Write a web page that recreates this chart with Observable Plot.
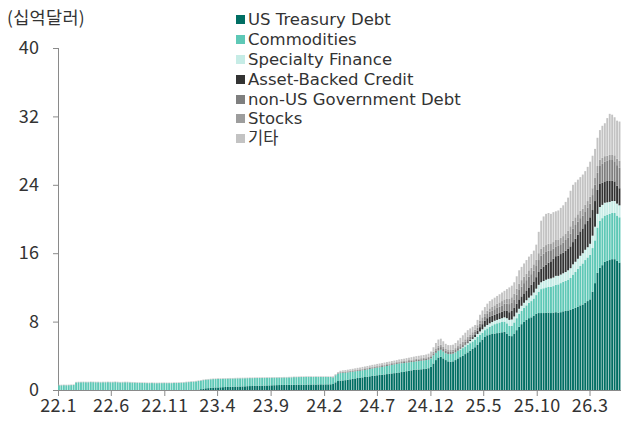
<!DOCTYPE html>
<html><head><meta charset="utf-8">
<script src="https://cdn.jsdelivr.net/npm/d3@7"></script>
<script src="https://cdn.jsdelivr.net/npm/@observablehq/plot@0.6"></script>
<style>
body{margin:0;background:#fff;font-family:"Noto Sans CJK KR","Noto Sans",sans-serif;}
#wrap{position:relative;width:621px;height:425px;overflow:hidden}
#unit{position:absolute;left:7px;top:6px;font-size:17.5px;color:#333;z-index:2;line-height:22px;height:22px;letter-spacing:0.3px}
#legend{position:absolute;left:236px;top:10px;font-size:16.5px;color:#333;z-index:2;font-family:"DejaVu Sans","Noto Sans CJK KR",sans-serif}
.row{display:flex;align-items:center;white-space:nowrap;height:19.8px}
.sw{width:9px;height:9px;margin-right:3px;flex:none}
.lb{display:inline-block;height:19px;line-height:19px;overflow:visible}
#chart svg text{fill:#333}
</style></head>
<body>
<div id="wrap"><div id="unit">(십억달러)</div><div id="legend"></div><div id="chart"></div></div>
<script>
const seriesNames = ["US Treasury Debt","Commodities","Specialty Finance","Asset-Backed Credit","non-US Government Debt","Stocks","기타"];
const seriesColors = ["#006e63","#5ec8b6","#c6ece6","#333333","#7f7f7f","#9d9d9d","#c3c3c3"];
const xTickLabels = ["22.1","22.6","22.11","23.4","23.9","24.2","24.7","24.12","25.5","25.10","26.3"];
const yTicks = [0,8,16,24,32,40];
const firstWeek = "2022-01-01";

// weekly values, billions USD (rows of 10 weeks)
const ust = [
0,0,0,0,0,0,0,0,0,0,
0,0,0,0,0,0,0,0,0,0,
0,0,0,0,0,0,0,0,0,0,
0,0,0,0,0,0,0,0,0,0,
0,0,0,0,0,0,0,0,0,0,
0,0,0,0,0,0,0,0.05,0.1,0.15,
0.2,0.22,0.25,0.28,0.3,0.3,0.32,0.33,0.35,0.36,
0.37,0.38,0.4,0.4,0.41,0.42,0.43,0.45,0.46,0.47,
0.48,0.5,0.5,0.51,0.52,0.53,0.54,0.55,0.56,0.57,
0.58,0.59,0.6,0.6,0.6,0.61,0.62,0.62,0.63,0.63,
0.62,0.63,0.64,0.64,0.65,0.64,0.65,0.66,0.65,0.66,
0.66,0.67,0.7,0.9,1.05,1.1,1.12,1.15,1.2,1.25,
1.3,1.35,1.4,1.45,1.48,1.52,1.55,1.6,1.64,1.68,
1.72,1.75,1.78,1.82,1.86,1.9,1.94,1.97,2.0,2.05,
2.1,2.15,2.2,2.25,2.3,2.35,2.38,2.4,2.42,2.45,
2.5,2.55,2.7,3.1,3.5,3.8,3.9,3.7,3.5,3.35,
3.3,3.35,3.5,3.7,3.85,4.0,4.2,4.4,4.6,4.8,
5.0,5.3,5.6,5.9,6.2,6.4,6.5,6.55,6.6,6.65,
6.7,6.75,6.8,6.6,6.35,6.3,6.6,7.0,7.4,7.7,
8.0,8.2,8.4,8.5,8.7,8.9,9.0,9.0,9.0,9.05,
9.05,9.0,9.05,9.1,9.05,9.1,9.2,9.25,9.3,9.4,
9.5,9.6,9.75,9.9,10.0,10.2,10.4,10.6,11.5,12.5,
13.7,14.3,14.6,15.0,15.1,15.2,15.3,15.3,15.1,14.9];
const commodities = [
0.55,0.55,0.56,0.55,0.56,0.57,0.58,0.88,0.9,0.9,
0.91,0.9,0.9,0.92,0.91,0.9,0.9,0.89,0.9,0.9,
0.91,0.9,0.9,0.92,0.9,0.88,0.89,0.9,0.9,0.88,
0.87,0.86,0.84,0.83,0.82,0.82,0.8,0.8,0.81,0.8,
0.79,0.8,0.8,0.81,0.8,0.8,0.8,0.82,0.82,0.83,
0.85,0.87,0.9,0.92,0.95,0.97,1.0,1.0,1.0,1.0,
1.0,1.0,1.0,0.99,0.98,1.0,0.98,0.98,0.97,0.97,
0.97,0.96,0.95,0.96,0.95,0.95,0.94,0.93,0.93,0.92,
0.92,0.9,0.91,0.9,0.9,0.89,0.89,0.88,0.88,0.87,
0.87,0.86,0.86,0.86,0.87,0.87,0.88,0.88,0.88,0.89,
0.9,0.9,0.9,0.89,0.88,0.89,0.88,0.87,0.88,0.87,
0.86,0.85,0.75,0.8,0.85,0.88,0.88,0.87,0.86,0.85,
0.84,0.83,0.82,0.8,0.82,0.83,0.85,0.86,0.88,0.88,
0.9,0.9,0.92,0.93,0.95,0.97,1.0,1.02,1.05,1.05,
1.03,1.0,1.0,0.98,0.97,0.95,0.97,0.98,1.0,1.0,
1.0,1.0,1.0,0.95,0.85,0.8,0.8,0.8,0.8,0.85,
0.9,0.9,0.9,0.9,0.9,0.9,0.9,0.88,0.88,0.88,
0.9,0.9,0.85,0.8,0.8,0.8,0.9,1.0,1.1,1.15,
1.2,1.2,1.2,1.2,1.15,1.2,1.3,1.4,1.5,1.55,
1.6,1.7,1.8,1.9,2.0,2.2,2.5,2.8,2.9,2.95,
3.0,3.05,3.1,3.2,3.3,3.4,3.45,3.5,3.6,3.7,
4.0,4.2,4.4,4.6,4.8,5.0,5.1,5.2,5.1,5.0,
5.3,5.5,5.5,5.4,5.4,5.4,5.4,5.4,5.3,5.3];
const specialtyFinance = [
0,0,0,0,0,0,0,0,0,0, 0,0,0,0,0,0,0,0,0,0,
0,0,0,0,0,0,0,0,0,0, 0,0,0,0,0,0,0,0,0,0,
0,0,0,0,0,0,0,0,0,0, 0,0,0,0,0,0,0,0,0,0,
0,0,0,0,0,0,0,0,0,0, 0,0,0,0,0,0,0,0,0,0,
0,0,0,0,0,0,0,0,0,0, 0,0,0,0,0,0,0,0,0,0,
0,0,0,0,0,0,0,0,0,0, 0,0,0,0,0,0,0,0,0,0,
0,0,0,0,0,0,0,0,0,0, 0,0,0,0,0,0,0,0,0,0,
0,0,0,0,0,0,0,0,0,0, 0,0,0,0,0,0,0,0,0,0,
0,0,0,0,0.05,0.1,0.15,0.2,0.25,0.3,
0.3,0.35,0.4,0.4,0.4,0.4,0.4,0.4,0.4,0.4,
0.4,0.45,0.5,0.6,0.7,0.75,0.7,0.65,0.6,0.6,
0.6,0.6,0.6,0.65,0.7,0.75,0.8,0.8,0.85,0.9,
0.95,1.0,1.0,1.05,1.0,1.0,1.0,1.05,1.1,1.15,
1.2,1.2,1.2,1.2,1.2,1.2,1.2,1.3,1.45,1.6,
1.6,1.6,1.55,1.5,1.45,1.4,1.4,1.4,1.4,1.4];
const assetBacked = [
0,0,0,0,0,0,0,0,0,0, 0,0,0,0,0,0,0,0,0,0,
0,0,0,0,0,0,0,0,0,0, 0,0,0,0,0,0,0,0,0,0,
0,0,0,0,0,0,0,0,0,0, 0,0,0,0,0,0,0,0,0,0,
0,0,0,0,0,0,0,0,0,0, 0,0,0,0,0,0,0,0,0,0,
0,0,0,0,0,0,0,0,0,0, 0,0,0,0,0,0,0,0,0,0,
0,0,0,0,0,0,0,0,0,0, 0,0,0,0,0,0,0,0,0,0,
0,0,0,0,0,0,0,0,0,0, 0,0,0,0,0,0,0,0,0,0,
0,0,0,0,0,0,0,0,0,0, 0,0,0,0,0,0,0,0,0,0,
0,0,0,0,0,0,0.05,0.1,0.15,0.2,
0.3,0.4,0.5,0.6,0.7,0.8,0.8,0.75,0.7,0.7,
0.7,0.75,0.8,0.85,0.9,1.0,1.0,1.05,1.1,1.1,
1.1,1.15,1.2,1.25,1.3,1.35,1.5,1.6,1.7,1.75,
1.9,2.0,2.2,2.3,2.35,2.4,2.4,2.5,2.5,2.55,
2.6,2.7,2.8,2.85,2.9,3.0,3.1,3.1,3.0,3.0,
2.8,2.7,2.6,2.5,2.5,2.5,2.4,2.3,2.1,2.0];
const nonUSGov = [
0,0,0,0,0,0,0,0,0,0, 0,0,0,0,0,0,0,0,0,0,
0,0,0,0,0,0,0,0,0,0, 0,0,0,0,0,0,0,0,0,0,
0,0,0,0,0,0,0,0,0,0, 0,0,0,0,0,0,0,0,0,0,
0,0,0,0,0,0,0,0,0,0, 0,0,0,0,0,0,0,0,0,0,
0,0,0,0,0,0,0,0,0,0, 0,0,0,0,0,0,0,0,0,0,
0,0,0,0,0,0,0,0,0,0,
0,0,0.03,0.03,0.05,0.07,0.08,0.08,0.08,0.09,
0.09,0.09,0.1,0.1,0.1,0.1,0.11,0.11,0.11,0.11,
0.12,0.12,0.12,0.12,0.12,0.12,0.12,0.12,0.12,0.13,
0.13,0.14,0.14,0.15,0.15,0.16,0.16,0.17,0.17,0.17,
0.18,0.18,0.2,0.24,0.29,0.32,0.32,0.3,0.28,0.26,
0.26,0.26,0.28,0.3,0.32,0.35,0.35,0.36,0.34,0.32,
0.3,0.35,0.4,0.45,0.45,0.5,0.55,0.6,0.65,0.7,
0.75,0.75,0.8,0.85,0.95,1.0,1.0,1.05,1.1,1.15,
1.2,1.2,1.25,1.25,1.25,1.3,1.4,1.5,1.5,1.5,
1.4,1.3,1.2,1.15,1.15,1.15,1.2,1.25,1.35,1.5,
1.6,1.6,1.55,1.55,1.5,1.5,1.55,1.6,1.75,1.9,
2.0,2.1,2.2,2.3,2.35,2.4,2.4,2.35,2.4,2.4];
const stocks = [
0.02,0.02,0.02,0.02,0.02,0.02,0.02,0.02,0.02,0.02, 0.02,0.02,0.02,0.02,0.02,0.02,0.02,0.02,0.02,0.02,
0.02,0.02,0.02,0.02,0.02,0.02,0.02,0.02,0.02,0.02, 0.02,0.02,0.02,0.02,0.02,0.02,0.02,0.02,0.02,0.02,
0.02,0.02,0.02,0.02,0.02,0.02,0.02,0.02,0.02,0.02, 0.02,0.02,0.02,0.02,0.02,0.02,0.02,0.02,0.02,0.02,
0.02,0.02,0.02,0.02,0.02,0.02,0.02,0.02,0.02,0.02, 0.02,0.02,0.02,0.02,0.02,0.02,0.02,0.02,0.02,0.02,
0.02,0.02,0.02,0.02,0.02,0.02,0.02,0.02,0.02,0.02, 0.02,0.02,0.02,0.02,0.02,0.02,0.02,0.02,0.02,0.02,
0.02,0.02,0.02,0.02,0.02,0.02,0.02,0.02,0.02,0.02,
0.02,0.02,0.05,0.05,0.05,0.06,0.07,0.07,0.07,0.07,
0.08,0.08,0.08,0.08,0.09,0.09,0.09,0.09,0.09,0.09,
0.1,0.1,0.1,0.1,0.1,0.1,0.1,0.1,0.1,0.1,
0.11,0.11,0.12,0.12,0.12,0.13,0.13,0.13,0.13,0.14,
0.14,0.14,0.16,0.19,0.23,0.26,0.26,0.24,0.22,0.21,
0.21,0.21,0.22,0.24,0.26,0.28,0.28,0.28,0.27,0.26,
0.25,0.28,0.32,0.35,0.35,0.38,0.4,0.42,0.45,0.48,
0.5,0.5,0.5,0.55,0.6,0.6,0.65,0.7,0.75,0.75,
0.75,0.75,0.75,0.75,0.75,0.75,0.8,0.8,0.8,0.8,
0.8,0.8,0.75,0.75,0.75,0.75,0.75,0.75,0.8,0.85,
0.9,0.9,0.85,0.85,0.8,0.75,0.75,0.8,0.8,0.8,
0.8,0.75,0.7,0.65,0.6,0.6,0.65,0.7,0.75,0.8];
const others = [
0.05,0.05,0.05,0.05,0.05,0.05,0.05,0.05,0.05,0.05, 0.05,0.05,0.05,0.05,0.05,0.05,0.05,0.05,0.05,0.05,
0.05,0.05,0.05,0.05,0.05,0.05,0.05,0.05,0.05,0.05, 0.05,0.05,0.05,0.05,0.05,0.05,0.05,0.05,0.05,0.05,
0.05,0.05,0.05,0.05,0.05,0.05,0.05,0.05,0.05,0.05, 0.05,0.05,0.05,0.05,0.05,0.05,0.05,0.05,0.05,0.05,
0.05,0.05,0.05,0.05,0.05,0.05,0.05,0.05,0.05,0.05, 0.05,0.05,0.05,0.05,0.05,0.05,0.05,0.05,0.05,0.05,
0.05,0.05,0.05,0.05,0.05,0.05,0.05,0.05,0.05,0.05, 0.05,0.05,0.05,0.05,0.05,0.05,0.05,0.05,0.05,0.05,
0.05,0.05,0.05,0.05,0.05,0.05,0.05,0.05,0.05,0.05,
0.05,0.05,0.07,0.07,0.1,0.14,0.15,0.16,0.17,0.17,
0.17,0.18,0.19,0.2,0.21,0.21,0.21,0.21,0.22,0.22,
0.21,0.23,0.23,0.24,0.24,0.23,0.23,0.23,0.23,0.24,
0.25,0.26,0.27,0.28,0.3,0.31,0.32,0.32,0.33,0.33,
0.33,0.38,0.44,0.52,0.63,0.72,0.72,0.66,0.6,0.58,
0.58,0.58,0.6,0.66,0.72,0.77,0.77,0.78,0.71,0.64,
0.55,0.62,0.73,0.8,0.8,0.82,0.85,0.88,0.9,0.92,
0.95,1.0,1.0,1.15,1.35,1.35,1.35,1.45,1.55,1.55,
1.55,1.6,1.6,1.6,1.6,1.75,2.5,3.3,3.55,3.65,
3.6,3.45,3.5,3.35,3.4,3.5,3.6,3.7,3.85,4.15,
4.2,4.1,4.05,3.95,4.0,3.95,4.0,4.1,3.8,3.4,
3.3,3.45,3.75,3.85,4.4,4.8,4.65,4.45,4.45,4.6];

const seriesValues = [ust, commodities, specialtyFinance, assetBacked, nonUSGov, stocks, others];
const nWeeks = ust.length;
seriesValues.forEach((a, k) => { if (a.length !== nWeeks) console.error("length mismatch", seriesNames[k], a.length); });

const start = new Date(firstWeek + "T00:00:00Z");
const weeks = d3.range(nWeeks).map(i => d3.utcDay.offset(start, 7 * i));
const data = [];
weeks.forEach((d, i) => {
  seriesNames.forEach((s, k) => {
    data.push({x1: d, x2: d3.utcDay.offset(d, 7), series: s, value: seriesValues[k][i]});
  });
});
const parseTick = t => { const [y, m] = t.split(".").map(Number); return new Date(Date.UTC(2000 + y, m - 1, 1)); };
const xTicks = xTickLabels.map(parseTick);
const end = d3.utcDay.offset(start, 7 * nWeeks);

const chart = Plot.plot({
  width: 621, height: 425,
  marginLeft: 58, marginRight: 0, marginTop: 48, marginBottom: 35,
  style: {fontFamily: '"Noto Sans CJK KR","Noto Sans",sans-serif', fontSize: "18px", color: "#8a8a8a", background: "transparent", letterSpacing: "0.4px"},
  x: {type: "utc", domain: [start, end], ticks: xTicks, tickFormat: d => `${d.getUTCFullYear() % 100}.${d.getUTCMonth() + 1}`, tickSize: 6, tickPadding: 3, label: null, line: true},
  y: {domain: [0, 40], ticks: yTicks, tickSize: 5, tickPadding: 14, label: null, line: true},
  color: {domain: seriesNames, range: seriesColors},
  marks: [
    Plot.rectY(data, Plot.stackY({x1: "x1", x2: "x2", y: "value", fill: "series", insetRight: 0.55}))
  ]
});
document.getElementById("chart").appendChild(chart);

const legend = d3.select("#legend");
seriesNames.forEach((s, k) => {
  const row = legend.append("div").attr("class", "row");
  row.append("div").attr("class", "sw").style("background", seriesColors[k]);
  row.append("span").attr("class", "lb").text(s);
});
</script>
</body></html>
